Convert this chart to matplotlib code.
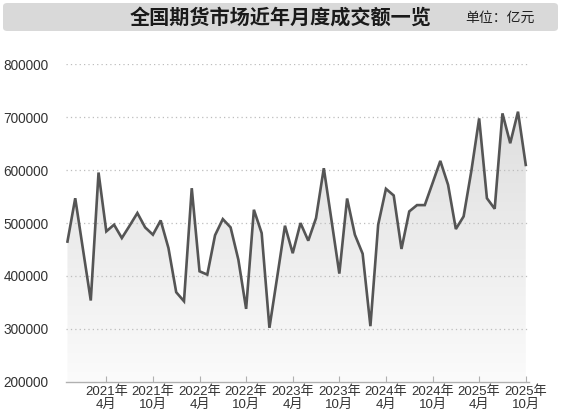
import numpy as np
import matplotlib
matplotlib.use('Agg')
import matplotlib.pyplot as plt
from matplotlib.patches import FancyBboxPatch
from matplotlib.colors import LinearSegmentedColormap

plt.rcParams['font.family'] = ['Liberation Sans', 'Noto Sans CJK SC', 'DejaVu Sans']

# 月度成交额（亿元），2020年11月 - 2025年10月
turnover = [465000, 547000, 450000, 353500, 595600, 484300, 496900, 471700, 495000, 519000,
            491800, 478000, 505000, 452800, 369200, 352200, 566000, 408800, 402500, 477000,
            507500, 491800, 430800, 337700, 525200, 481100, 301900, 398000, 495000, 443000,
            500000, 466700, 509400, 603800, 504400, 404400, 546500, 478000, 442000, 305000,
            496900, 564800, 552200, 451000, 522000, 534000, 534000, 575500, 617600, 572300,
            488700, 512600, 599000, 698000, 547000, 527000, 707500, 651000, 710700, 610000]
tick_pos = [5, 11, 17, 23, 29, 35, 41, 47, 53, 59]
tick_labels = ['2021年\n4月', '2021年\n10月', '2022年\n4月', '2022年\n10月', '2023年\n4月',
               '2023年\n10月', '2024年\n4月', '2024年\n10月', '2025年\n4月', '2025年\n10月']
y_ticks = [200000, 300000, 400000, 500000, 600000, 700000, 800000]

x = np.arange(len(turnover))
y = np.array(turnover)

fig = plt.figure(figsize=(5.61, 4.17), dpi=100)
fig.patch.set_facecolor('white')

# 标题栏
bar = FancyBboxPatch((3 / 561, 1 - 31 / 417), 555 / 561, 28 / 417,
                     boxstyle='round,pad=0,rounding_size=0.008',
                     transform=fig.transFigure, facecolor='#d9d9d9', edgecolor='none')
fig.patches.append(bar)
fig.text(0.5, 0.960, '全国期货市场近年月度成交额一览', ha='center', va='center',
         fontsize=14.5, fontweight='bold', color='#1a1a1a', family=['Noto Sans CJK SC'])
fig.text(0.829, 0.958, '单位：亿元', ha='left', va='center',
         fontsize=10, color='#222222', family=['Noto Sans CJK SC'])

ax = fig.add_axes([0.1168, 0.0847, 0.8262, 0.7607])

# 渐变填充
poly = ax.fill_between(x, y, 200000, color='none', linewidth=0)
cmap = LinearSegmentedColormap.from_list('g', ['#fbfbfb', '#dedede'])
grad = np.linspace(0, 1, 256).reshape(-1, 1)
img = ax.imshow(grad, cmap=cmap, aspect='auto', origin='lower',
                extent=[x[0], x[-1], 200000, 720000], zorder=1)
img.set_clip_path(poly.get_paths()[0], transform=ax.transData)
ax.set_xlim(-0.25, 59.42)
ax.set_ylim(200000, 800000)

ax.plot(x, y, color='#555555', linewidth=1.9, solid_joinstyle='miter', zorder=3)

for v in y_ticks[1:]:
    ax.axhline(v, color='#bdbdbd', linestyle=(0, (1, 2.5)), linewidth=0.9, zorder=2)

ax.set_yticks(y_ticks)
ax.set_yticklabels([str(v) for v in y_ticks])
ax.set_xticks(tick_pos)
ax.set_xticklabels(tick_labels, linespacing=1.0)
ax.tick_params(axis='y', length=0, pad=12, labelsize=9.8, labelcolor='#333333')
ax.tick_params(axis='x', direction='in', length=4, width=0.8, color='#b0b0b0',
               pad=3, labelsize=9.5, labelcolor='#333333')

for s in ['top', 'right', 'left']:
    ax.spines[s].set_visible(False)
ax.spines['bottom'].set_color('#b0b0b0')
ax.spines['bottom'].set_linewidth(1.0)
ax.set_facecolor('none')

fig.savefig('out.png', dpi=100)
